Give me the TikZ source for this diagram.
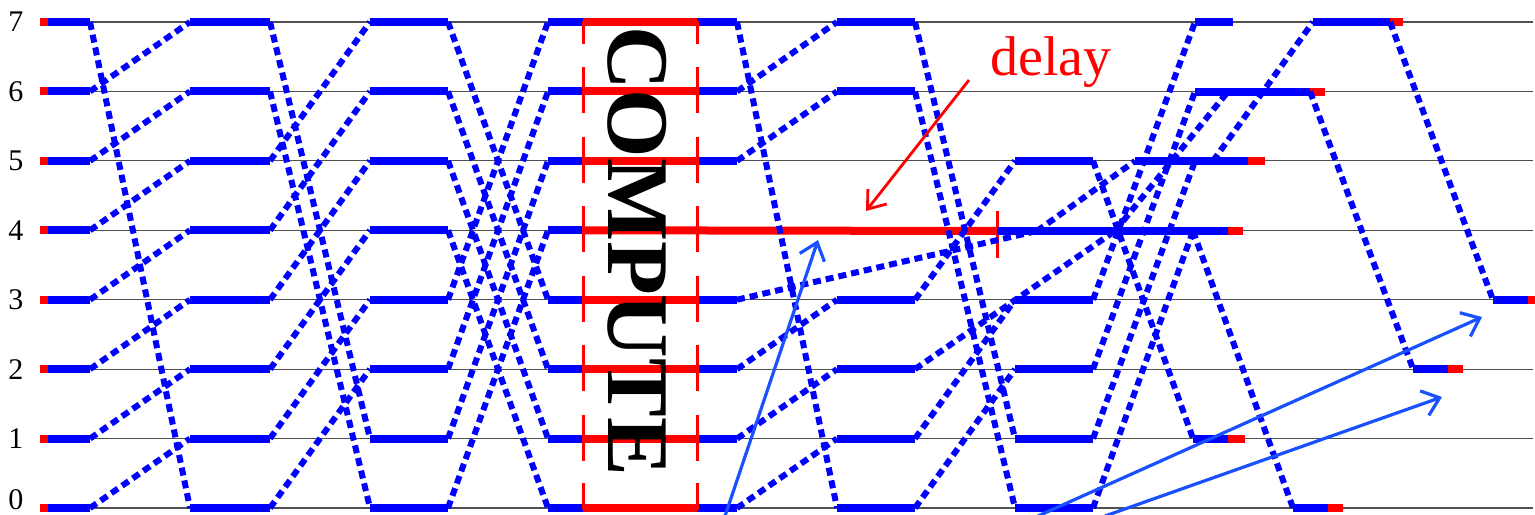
\documentclass[tikz,border=0pt]{standalone}
\usepackage{fontspec}
\setmainfont{Liberation Serif}
\usetikzlibrary{arrows.meta}
\definecolor{segblue}{RGB}{0,0,255}
\definecolor{arrblue}{RGB}{25,80,255}
\definecolor{myred}{RGB}{255,0,0}
\definecolor{rowgray}{RGB}{80,80,80}
\begin{document}
\begin{tikzpicture}[x=0.5pt,y=-0.5pt,
  rowline/.style={rowgray,line width=0.6pt},
  seg/.style={segblue,line width=4pt},
  redseg/.style={myred,line width=4pt},
  msg/.style={segblue,line width=3pt,dash pattern=on 4pt off 2.5pt},
  tick/.style={myred,line width=1.5pt},
  note/.style={arrblue,line width=1.6pt,-{Straight Barb[length=8pt,width=13pt,line width=1.6pt]}},
  redarrow/.style={myred,line width=1.4pt,-{Straight Barb[length=8pt,width=12pt,line width=1.4pt]}},
  lbl/.style={font=\fontsize{15pt}{15pt}\selectfont,inner sep=0pt}
]
\useasboundingbox (0,0) rectangle (1535,514);
% row coordinates
\foreach \r in {0,...,7}{
  \pgfmathsetmacro{\yy}{508-69.43*\r}
  \coordinate (L\r) at (40,\yy);
  \coordinate (R\r) at (1533,\yy);
  \draw[rowline] (L\r) -- (R\r);
}
\foreach \r in {1,...,7}{
  \pgfmathsetmacro{\yy}{508-69.43*\r}
  \node[lbl] (n\r) at (16,\yy) {\r};
}
\node[lbl] (n0) at (16,500) {0};
% ---------- pre-compute ----------
\foreach \r in {0,...,7}{
  \pgfmathsetmacro{\yy}{508-69.43*\r}
  \coordinate (a0-\r) at (48,\yy);  \coordinate (b0-\r) at (90,\yy);
  \coordinate (a1-\r) at (190,\yy); \coordinate (b1-\r) at (270,\yy);
  \coordinate (a2-\r) at (370,\yy); \coordinate (b2-\r) at (448,\yy);
  \coordinate (a3-\r) at (548,\yy); \coordinate (c3-\r) at (583,\yy);
  \coordinate (d3-\r) at (697,\yy); \coordinate (b3-\r) at (737,\yy);
  \draw[redseg] (L\r) -- (a0-\r);
  \draw[seg] (a0-\r) -- (b0-\r);
  \draw[seg] (a1-\r) -- (b1-\r);
  \draw[seg] (a2-\r) -- (b2-\r);
  \draw[seg] (a3-\r) -- (c3-\r);
}
\foreach \r in {0,...,7}{
  \pgfmathtruncatemacro{\ta}{mod(\r+1,8)}
  \pgfmathtruncatemacro{\tb}{mod(\r+2,8)}
  \pgfmathtruncatemacro{\tc}{mod(\r+4,8)}
  \draw[msg] (b0-\r) -- (a1-\ta);
  \draw[msg] (b1-\r) -- (a2-\tb);
  \draw[msg] (b2-\r) -- (a3-\tc);
}
% ---------- compute block ----------
\foreach \r in {0,1,2,3,5,6,7}{
  \draw[redseg] (c3-\r) -- (d3-\r);
  \draw[seg] (d3-\r) -- (b3-\r);
}
\coordinate (dl) at (997,231);
\draw[redseg] (c3-4) -- (dl);
\foreach \r in {1,...,6}{
  \pgfmathsetmacro{\yy}{508-69.43*\r}
  \draw[tick] (583,\yy-24) -- (583,\yy+22);
  \draw[tick] (697,\yy-24) -- (697,\yy+22);
}
\draw[tick] (583,44) -- (583,22) -- (697,22) -- (697,44);
\draw[tick] (583,483) -- (583,508) -- (697,508) -- (697,483);
\draw[tick] (997,211) -- (997,258);
\node[inner sep=0pt,rotate=-90,font=\bfseries\fontsize{44pt}{44pt}\selectfont] (comp) at (637,251) {COMPUTE};
% ---------- post-compute segments ----------
\foreach \r in {0,1,2,3,6,7}{
  \pgfmathsetmacro{\yy}{508-69.43*\r}
  \coordinate (a4-\r) at (837,\yy); \coordinate (b4-\r) at (915,\yy);
  \draw[seg] (a4-\r) -- (b4-\r);
}
\foreach \r in {0,1,2,3,5}{
  \pgfmathsetmacro{\yy}{508-69.43*\r}
  \coordinate (a5-\r) at (1015,\yy); \coordinate (b5-\r) at (1093,\yy);
  \draw[seg] (a5-\r) -- (b5-\r);
}
% final segments: start, blue end, red end
\coordinate (f7a) at (1195,22);  \coordinate (f7b) at (1233,22);
\coordinate (g7a) at (1313,22);  \coordinate (g7b) at (1390,22);  \coordinate (g7c) at (1403,22);
\coordinate (f6a) at (1195,91.5); \coordinate (f6m) at (1228,91.5);
\coordinate (f6b) at (1310,91.5); \coordinate (f6c) at (1325,91.5);
\coordinate (f5a) at (1135,161); \coordinate (f5m) at (1195,161); \coordinate (f5s) at (1213,161);
\coordinate (f5b) at (1248,161); \coordinate (f5c) at (1265,161);
\coordinate (r4a) at (1037,231); \coordinate (r4b) at (1115,231); \coordinate (r4c) at (1193,231);
\coordinate (f4b) at (1228,231); \coordinate (f4c) at (1243,231);
\coordinate (f3a) at (1493,300); \coordinate (f3b) at (1528,300); \coordinate (f3c) at (1535,300);
\coordinate (f2a) at (1413,369); \coordinate (f2b) at (1448,369); \coordinate (f2c) at (1463,369);
\coordinate (f1a) at (1193,438.5); \coordinate (f1b) at (1228,438.5); \coordinate (f1c) at (1245,438.5);
\coordinate (f0a) at (1293,508); \coordinate (f0b) at (1328,508); \coordinate (f0c) at (1343,508);
\draw[seg] (f7a) -- (f7b);
\draw[seg] (g7a) -- (g7b); \draw[redseg] (g7b) -- (g7c);
\draw[seg] (f6a) -- (f6b); \draw[redseg] (f6b) -- (f6c);
\draw[seg] (f5a) -- (f5b); \draw[redseg] (f5b) -- (f5c);
\draw[seg] (dl) -- (f4b); \draw[redseg] (f4b) -- (f4c);
\draw[seg] (f3a) -- (f3b); \draw[redseg] (f3b) -- (f3c);
\draw[seg] (f2a) -- (f2b); \draw[redseg] (f2b) -- (f2c);
\draw[seg] (f1a) -- (f1b); \draw[redseg] (f1b) -- (f1c);
\draw[seg] (f0a) -- (f0b); \draw[redseg] (f0b) -- (f0c);
% ---------- post-compute messages ----------
\draw[msg] (b3-7) -- (a4-0);
\draw[msg] (b3-6) -- (a4-7);
\draw[msg] (b3-5) -- (a4-6);
\draw[msg] (b3-2) -- (a4-3);
\draw[msg] (b3-1) -- (a4-2);
\draw[msg] (b3-0) -- (a4-1);
\draw[msg] (b3-3) -- (r4a);
\draw[msg] (r4a) -- (f5a);
\draw[msg] (b4-7) -- (a5-1);
\draw[msg] (b4-6) -- (a5-0);
\draw[msg] (b4-3) -- (a5-5);
\draw[msg] (b4-2) -- (r4b);
\draw[msg] (b4-1) -- (a5-3);
\draw[msg] (b4-0) -- (a5-2);
\draw[msg] (r4b) -- (f6m);
\draw[msg] (b5-5) -- (f1a);
\draw[msg] (b5-3) -- (f7a);
\draw[msg] (b5-2) -- (f6a);
\draw[msg] (b5-1) -- (f5m);
\draw[msg] (b5-0) -- (r4c);
\draw[msg] (r4c) -- (f0a);
\draw[msg] (f5s) -- (g7a);
\draw[msg] (f6b) -- (f2a);
\draw[msg] (g7b) -- (f3a);
% ---------- annotations ----------
\coordinate (p1s) at (725,516); \coordinate (p1e) at (818,240);
\coordinate (p2s) at (1038,516); \coordinate (p2e) at (1482,317);
\coordinate (p3s) at (1105,516); \coordinate (p3e) at (1442,397);
\draw[note] (p1s) -- (p1e);
\draw[note] (p2s) -- (p2e);
\draw[note] (p3s) -- (p3e);
\node[myred,anchor=base west,inner sep=0pt,font=\fontsize{28pt}{28pt}\selectfont] (delay) at (990,75) {delay};
\coordinate (ds) at (969,80); \coordinate (de) at (866,211);
\draw[redarrow] (ds) -- (de);
\end{tikzpicture}
\end{document}
